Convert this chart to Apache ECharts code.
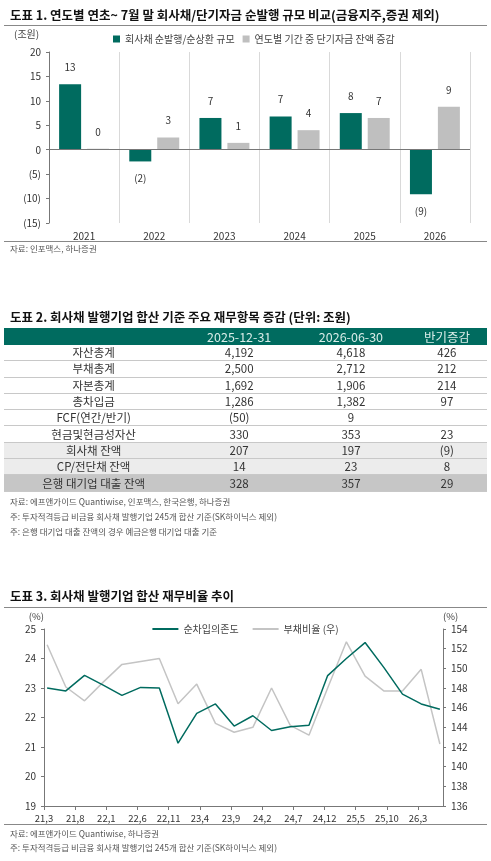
<!DOCTYPE html>
<html><head><meta charset="utf-8">
<script src="https://cdn.jsdelivr.net/npm/echarts@6/dist/echarts.min.js"></script>
<style>
body{margin:0;width:491px;height:861px;background:#fff;font-family:"Noto Sans CJK KR","Noto Sans",sans-serif;color:#333;position:relative;overflow:hidden}
#c{position:absolute;left:0;top:0;width:491px;height:861px}
.t{position:absolute;left:10px;font-size:12.5px;font-weight:bold;color:#111;white-space:nowrap}
.hl{position:absolute;left:4px;width:483px;height:0;border-top:1px solid #888}
.n{position:absolute;left:10px;font-size:8.5px;color:#555;white-space:nowrap}
table{position:absolute;left:4px;top:328px;width:483px;border-collapse:collapse;font-size:11.5px;color:#333}
td{height:15.3px;padding:0;text-align:center;border-bottom:1px solid #c8c8c8;line-height:15px}
tr.h td{background:#006B5F;color:#d8ece8;height:17px;font-size:12.5px;border:none}
tr.g td{background:#ececec}
tr.d td{background:#c6c6c6;border-top:1.5px solid #555}
</style></head><body>
<div id="c"></div>
<div class="t" style="top:5px">도표 1. 연도별 연초~ 7월 말 회사채/단기자금 순발행 규모 비교(금융지주,증권 제외)</div>
<div class="hl" style="top:25px"></div>
<div class="hl" style="top:241px"></div>
<div class="n" style="top:242px">자료: 인포맥스, 하나증권</div>
<div class="t" style="top:307px">도표 2. 회사채 발행기업 합산 기준 주요 재무항목 증감 (단위: 조원)</div>
<table id="tb"></table>
<div class="n" style="top:495px">자료: 에프앤가이드 Quantiwise, 인포맥스, 한국은행, 하나증권</div>
<div class="n" style="top:510px">주: 투자적격등급 비금융 회사채 발행기업 245개 합산 기준(SK하이닉스 제외)</div>
<div class="n" style="top:525px">주: 은행 대기업 대출 잔액의 경우 예금은행 대기업 대출 기준</div>
<div class="t" style="top:586px">도표 3. 회사채 발행기업 합산 재무비율 추이</div>
<div class="hl" style="top:607px"></div>
<div class="hl" style="top:824px"></div>
<div class="n" style="top:827px">자료: 에프앤가이드 Quantiwise, 하나증권</div>
<div class="n" style="top:841px">주: 투자적격등급 비금융 회사채 발행기업 245개 합산 기준(SK하이닉스 제외)</div>
<script>
// Chart 1
const years=['2021','2022','2023','2024','2025','2026'];
const bondNet=[13.4,-2.4,6.5,6.8,7.5,-9.1];
const shortTerm=[0.2,2.5,1.4,4.0,6.5,8.8];
// Table
const tblHeader=['','2025-12-31','2026-06-30','반기증감'];
const tblRows=[
['자산총계','4,192','4,618','426'],
['부채총계','2,500','2,712','212'],
['자본총계','1,692','1,906','214'],
['총차입금','1,286','1,382','97'],
['FCF(연간/반기)','(50)','9',''],
['현금및현금성자산','330','353','23'],
['회사채 잔액','207','197','(9)'],
['CP/전단채 잔액','14','23','8'],
['은행 대기업 대출 잔액','328','357','29']];
const rowStyle=['','','','','','','g','g','d'];
// Chart 3
const monthIdx=[0.5,3.5,6.5,9.5,12.5,15.5,18.5,21.5,24.5,27.5,30.5,33.5,36.5,39.5,42.5,45.5,48.5,51.5,54.5,57.5,60.5,63.5];
const netDebtDep=[23.0,22.9,23.43,23.1,22.75,23.02,23.0,21.13,22.14,22.46,21.71,22.06,21.56,21.69,21.74,23.42,24.0,24.54,23.7,22.79,22.46,22.28];
const debtRatio=[152.4,148.1,146.7,148.6,150.4,150.7,151.0,146.4,148.4,144.4,143.5,144.0,148.0,144.2,143.2,148.0,152.7,149.2,147.7,147.7,149.9,142.3];
const xTickLabels={0:'21.3',5:'21.8',10:'22.1',15:'22.6',20:'22.11',25:'23.4',30:'23.9',35:'24.2',40:'24.7',45:'24.12',50:'25.5',55:'25.10',60:'26.3'};

let h='<tr class="h">'+tblHeader.map(x=>'<td>'+x+'</td>').join('')+'</tr>';
tblRows.forEach((r,i)=>{h+='<tr class="'+rowStyle[i]+'">'+r.map(x=>'<td>'+x+'</td>').join('')+'</tr>';});
document.getElementById('tb').innerHTML=h;

const fam='"Noto Sans CJK KR","Noto Sans",sans-serif';
const paren=v=>v<0?'('+Math.abs(v)+')':String(v);
const lab={show:true,color:'#333',fontSize:10,fontFamily:fam,formatter:p=>paren(Math.round(p.value))};
const GREEN='#006B5F';
const ch=echarts.init(document.getElementById('c'));
ch.setOption({
 animation:false,
 textStyle:{fontFamily:fam},
 legend:[
  {left:108,top:29,itemWidth:7,itemHeight:7,itemGap:8,icon:'rect',textStyle:{fontSize:10,color:'#444'},data:['회사채 순발행/순상환 규모','연도별 기간 중 단기자금 잔액 증감']},
  {left:'center',top:619,itemWidth:26,itemHeight:2,icon:'rect',itemGap:14,textStyle:{fontSize:10,color:'#444'},data:['순차입의존도','부채비율 (우)']}
 ],
 graphic:[{type:'text',left:14,top:29,style:{text:'(조원)',fontSize:10,fill:'#444',fontFamily:fam}}],
 grid:[{left:49,width:421,top:52,height:171},{left:44,width:399,top:629,height:177}],
 xAxis:[
  {gridIndex:0,type:'category',data:years,axisLine:{show:false},axisTick:{show:false},
   splitLine:{show:true,lineStyle:{color:'#d9d9d9'}},axisLabel:{color:'#333',fontSize:10,margin:8}},
  {gridIndex:1,type:'value',min:0,max:64,interval:5,splitLine:{show:false},
   axisLine:{show:true,lineStyle:{color:'#777'}},axisTick:{show:true,inside:false,length:4,lineStyle:{color:'#777'}},
   axisLabel:{color:'#333',fontSize:9.5,formatter:v=>(xTickLabels[v]||'').replace('.',','),showMaxLabel:false}}
 ],
 yAxis:[
  {gridIndex:0,min:-15,max:20,interval:5,axisLine:{show:true,lineStyle:{color:'#777'}},axisTick:{show:true,length:3,lineStyle:{color:'#777'}},
   splitLine:{show:false},axisLabel:{color:'#333',fontSize:10,formatter:paren}},
  {gridIndex:1,min:19,max:25,interval:1,name:'(%)',nameGap:8,nameTextStyle:{color:'#444',fontSize:9.5,align:'right'},
   axisLine:{show:true,lineStyle:{color:'#777'}},axisTick:{show:true,length:3,lineStyle:{color:'#777'}},splitLine:{show:false},axisLabel:{color:'#333',fontSize:10}},
  {gridIndex:1,position:'right',min:136,max:154,interval:2,name:'(%)',nameGap:8,nameTextStyle:{color:'#444',fontSize:9.5,align:'left'},
   axisLine:{show:true,lineStyle:{color:'#777'}},axisTick:{show:true,length:3,lineStyle:{color:'#777'}},splitLine:{show:false},axisLabel:{color:'#333',fontSize:10}}
 ],
 series:[
  {name:'회사채 순발행/순상환 규모',type:'bar',xAxisIndex:0,yAxisIndex:0,data:bondNet,barWidth:22,barGap:'27%',
   itemStyle:{color:GREEN},label:Object.assign({},lab,{position:'outside',distance:12}),
   markLine:{silent:true,symbol:'none',label:{show:false},lineStyle:{color:'#777',type:'solid',width:1},data:[{yAxis:0}]}},
  {name:'연도별 기간 중 단기자금 잔액 증감',type:'bar',xAxisIndex:0,yAxisIndex:0,data:shortTerm,barWidth:22,
   itemStyle:{color:'#BFBFBF'},label:Object.assign({},lab,{position:'top',distance:12})},
  {name:'순차입의존도',type:'line',xAxisIndex:1,yAxisIndex:1,symbol:'none',data:monthIdx.map((m,i)=>[m,netDebtDep[i]]),
   lineStyle:{color:GREEN,width:1.5},itemStyle:{color:GREEN},z:3},
  {name:'부채비율 (우)',type:'line',xAxisIndex:1,yAxisIndex:2,symbol:'none',data:monthIdx.map((m,i)=>[m,debtRatio[i]]),
   lineStyle:{color:'#c4c4c4',width:1.5},itemStyle:{color:'#c4c4c4'},z:2}
 ]
});
</script>
</body></html>
